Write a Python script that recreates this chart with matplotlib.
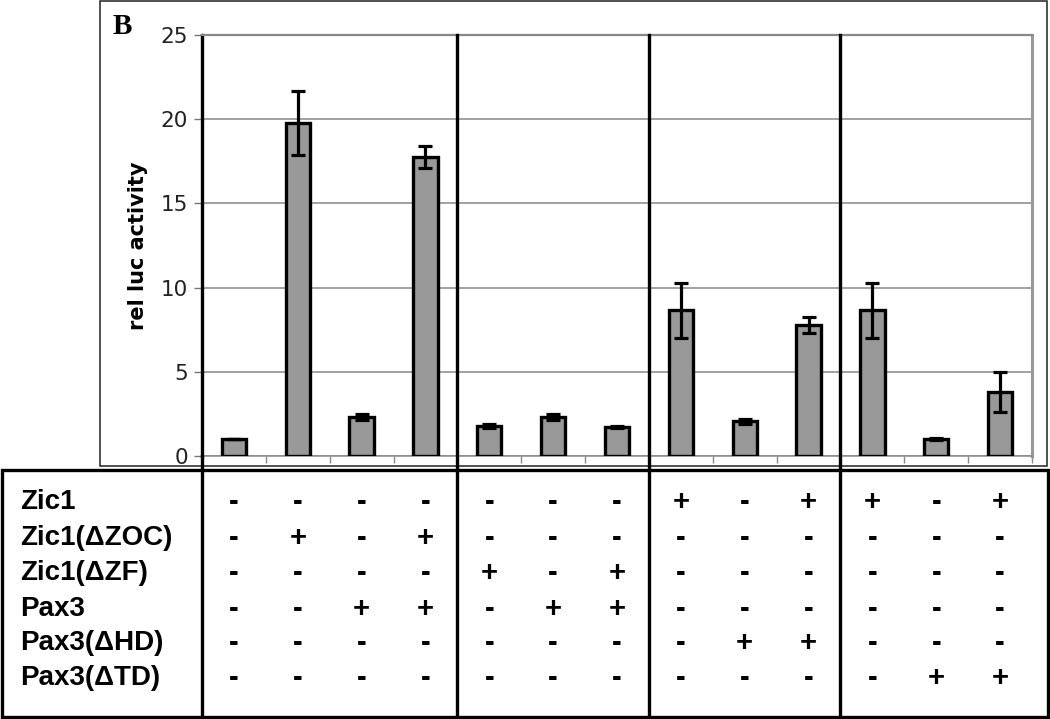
import numpy as np
import matplotlib
matplotlib.use("Agg")
import matplotlib.pyplot as plt
from matplotlib.patches import Rectangle
from matplotlib.lines import Line2D
from matplotlib.transforms import blended_transform_factory

# bar heights and error bars, one per lane
values = [1.0, 19.75, 2.33, 17.75,
          1.8, 2.33, 1.7,
          8.65, 2.05, 7.78,
          8.65, 1.0, 3.8]
errors = [0.02, 1.9, 0.18, 0.67,
          0.12, 0.18, 0.06,
          1.65, 0.15, 0.45,
          1.65, 0.05, 1.2]

# lanes per group (group separators drawn after these)
group_sizes = [4, 3, 3, 3]

row_labels = ["Zic1", "Zic1(\u0394ZOC)", "Zic1(\u0394ZF)",
              "Pax3", "Pax3(\u0394HD)", "Pax3(\u0394TD)"]
table_rows = [
    "----" + "---" + "+-+" + "+-+",
    "-+-+" + "---" + "---" + "---",
    "----" + "+-+" + "---" + "---",
    "--++" + "-++" + "---" + "---",
    "----" + "---" + "-++" + "---",
    "----" + "---" + "---" + "-++",
]

yticks = [0, 5, 10, 15, 20, 25]

W, H = 1050, 719
fig = plt.figure(figsize=(W / 100, H / 100), dpi=100)


def fx(px):
    return px / W


def fy(py):
    return 1 - py / H


ax = fig.add_axes([fx(202), fy(456), fx(1032) - fx(202), fy(35) - fy(456)])

x = np.arange(len(values))
ax.bar(x, values, width=0.38, color="#999999", edgecolor="black",
       linewidth=2.4, zorder=3)
ax.errorbar(x, values, yerr=errors, fmt="none", ecolor="black",
            elinewidth=2.3, capsize=5, capthick=2.3, zorder=4)

ax.set_xlim(-0.5, len(values) - 0.5)
ax.set_ylim(0, 25)
ax.set_yticks(yticks)
ax.set_yticklabels([str(t) for t in yticks], fontsize=15.5, color="#222222")
ax.tick_params(axis="y", direction="out", length=6, width=1, color="#777777", pad=4)
ax.set_xticks(np.arange(len(values) + 1) - 0.5)
ax.set_xticklabels([])
ax.tick_params(axis="x", direction="out", length=5, width=1, color="#888888")
ax.yaxis.grid(True, color="#888888", linewidth=1.1, zorder=0)
ax.set_axisbelow(True)

ax.spines["left"].set_linewidth(2.4)
ax.spines["left"].set_color("black")
ax.spines["top"].set_color("#888888")
ax.spines["top"].set_linewidth(1.6)
ax.spines["right"].set_color("#999999")
ax.spines["right"].set_linewidth(2.2)
ax.spines["bottom"].set_color("#888888")
ax.spines["bottom"].set_linewidth(1.1)

ax.set_ylabel("rel luc activity", fontsize=15, fontweight="bold")
ax.yaxis.set_label_coords(-54 / 830, 0.5)

# outer frame around the chart
fig.add_artist(Rectangle((fx(100), fy(466)), fx(1047) - fx(100), fy(1) - fy(466),
                         transform=fig.transFigure, fill=False,
                         edgecolor="#222222", linewidth=1.1))
fig.text(fx(113), fy(27), "B", fontsize=21, fontweight="bold",
         family="Liberation Serif", ha="left", va="center")

# table frame
fig.add_artist(Rectangle((fx(2), fy(717)), fx(1048) - fx(2), fy(470) - fy(717),
                         transform=fig.transFigure, fill=False,
                         edgecolor="black", linewidth=2.4))

trans = blended_transform_factory(ax.transData, fig.transFigure)

# left spine continues through the table, plus group separators
seps = [-0.5] + list(np.cumsum(group_sizes)[:-1] - 0.5)
for i, s in enumerate(seps):
    top = fy(456) if i == 0 else fy(35)
    fig.add_artist(Line2D([s, s], [top, fy(717)], transform=trans,
                          color="black", linewidth=2.4))

row_y = [502, 538, 573, 609, 643, 678]
for label, row, py in zip(row_labels, table_rows, row_y):
    fig.text(fx(20), fy(py), label, fontsize=20, fontweight="bold",
             family="Liberation Sans", ha="left", va="center")
    for i, sym in enumerate(row):
        fig.text(i, fy(py), sym, transform=trans, fontsize=21,
                 fontweight="bold", family="Liberation Sans",
                 ha="center", va="center")

fig.savefig("out.png", dpi=100)
